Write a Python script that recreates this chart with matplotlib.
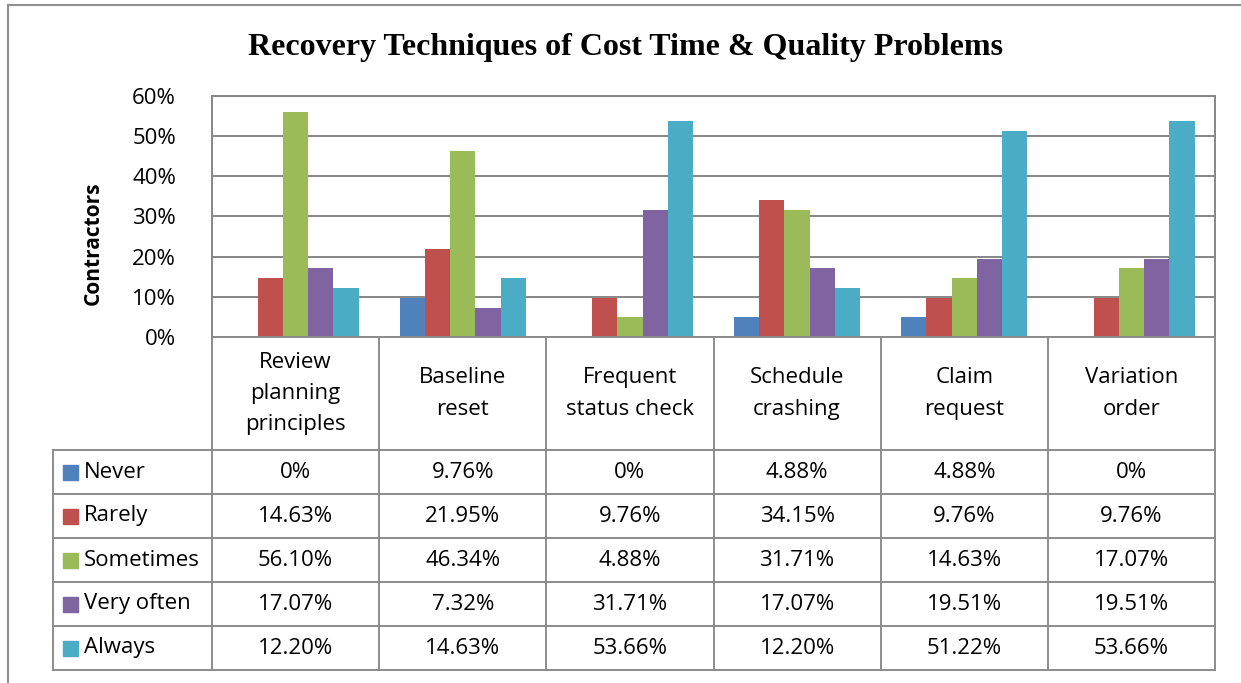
import matplotlib
matplotlib.use('Agg')
import matplotlib.pyplot as plt
from matplotlib.lines import Line2D
from matplotlib.patches import Rectangle

# ---- data ----
categories = ['Review\nplanning\nprinciples', 'Baseline\nreset', 'Frequent\nstatus check',
              'Schedule\ncrashing', 'Claim\nrequest', 'Variation\norder']
series_names = ['Never', 'Rarely', 'Sometimes', 'Very often', 'Always']
never = [0.0, 9.76, 0.0, 4.88, 4.88, 0.0]
rarely = [14.63, 21.95, 9.76, 34.15, 9.76, 9.76]
sometimes = [56.10, 46.34, 4.88, 31.71, 14.63, 17.07]
very_often = [17.07, 7.32, 31.71, 17.07, 19.51, 19.51]
always = [12.20, 14.63, 53.66, 12.20, 51.22, 53.66]
never_lbl = ['0%', '9.76%', '0%', '4.88%', '4.88%', '0%']
rarely_lbl = ['14.63%', '21.95%', '9.76%', '34.15%', '9.76%', '9.76%']
sometimes_lbl = ['56.10%', '46.34%', '4.88%', '31.71%', '14.63%', '17.07%']
very_often_lbl = ['17.07%', '7.32%', '31.71%', '17.07%', '19.51%', '19.51%']
always_lbl = ['12.20%', '14.63%', '53.66%', '12.20%', '51.22%', '53.66%']
y_ticks = [0, 10, 20, 30, 40, 50, 60]

colors = ['#4F81BD', '#C0504D', '#9BBB59', '#8064A2', '#4BACC6']
values = [never, rarely, sometimes, very_often, always]
labels = [never_lbl, rarely_lbl, sometimes_lbl, very_often_lbl, always_lbl]

W, H = 1241, 683
FONT = 'Open Sans'
FS = 16
GRID = '#868686'
TBL = '#8c8c8c'

fig = plt.figure(figsize=(W / 100, H / 100), dpi=100)


def fx(x):
    return x / W


def fy(y):
    return 1 - y / H


def hline(x0, x1, y, color=TBL, lw=1.4):
    fig.add_artist(Line2D([fx(x0), fx(x1)], [fy(y), fy(y)], color=color, lw=lw))


def vline(x, y0, y1, color=TBL, lw=1.4):
    fig.add_artist(Line2D([fx(x), fx(x)], [fy(y0), fy(y1)], color=color, lw=lw))


# outer chart border
hline(8, W, 5, color='#8f8f8f', lw=1.5)
vline(8, 5, H, color='#8f8f8f', lw=1.5)

# plot area
x_left, x_right, y_top, y_bot = 212, 1215, 96, 337
ax = fig.add_axes([fx(x_left), fy(y_bot), fx(x_right - x_left), (y_bot - y_top) / H])
bw = 0.151
for j, (vals, c) in enumerate(zip(values, colors)):
    xs = [i + (j - 2) * bw for i in range(len(categories))]
    ax.bar(xs, [v / 100 for v in vals], width=bw, color=c, zorder=3)

ax.set_xlim(-0.5, len(categories) - 0.5)
ax.set_ylim(0, 0.6)
ax.set_yticks([t / 100 for t in y_ticks])
ax.set_yticklabels([f'{t}%' for t in y_ticks], fontsize=FS, family=FONT)
ax.set_xticks([])
ax.tick_params(axis='y', length=0, pad=26)
ax.yaxis.grid(True, color=GRID, lw=1.4, zorder=0)
for s in ax.spines.values():
    s.set_color(GRID)
    s.set_linewidth(1.4)
ax.spines['bottom'].set_visible(False)

fig.text(fx(93), fy(243), 'Contractors', rotation=90, ha='center', va='center',
         fontsize=15, fontweight='bold', family=FONT)
fig.text(fx(626), fy(47), 'Recovery Techniques of Cost Time & Quality Problems',
         ha='center', va='center', fontsize=23, fontweight='bold', family='Liberation Serif')

# data table
col_w = (x_right - x_left) / len(categories)
col_x = [x_left + i * col_w for i in range(len(categories) + 1)]
lab_left = 53
head_bot = 450
row_h = 44
row_y = [head_bot + r * row_h for r in range(len(series_names) + 1)]

hline(x_left, x_right, y_bot)
for y in row_y:
    hline(lab_left, x_right, y)
for x in col_x:
    vline(x, y_bot, row_y[-1])
vline(lab_left, head_bot, row_y[-1])

for i, cat in enumerate(categories):
    fig.text(fx(col_x[i] + col_w / 2), fy((y_bot + head_bot) / 2), cat, ha='center',
             va='center', fontsize=FS, family=FONT, linespacing=1.65)

for r, (name, lbls, c) in enumerate(zip(series_names, labels, colors)):
    yc = (row_y[r] + row_y[r + 1]) / 2
    fig.add_artist(Rectangle((fx(63), fy(yc + 7.5)), 15 / W, 15 / H, color=c,
                             transform=fig.transFigure))
    fig.text(fx(84), fy(yc), name, ha='left', va='center', fontsize=FS, family=FONT)
    for i, t in enumerate(lbls):
        fig.text(fx(col_x[i] + col_w / 2), fy(yc), t, ha='center', va='center',
                 fontsize=FS, family=FONT)

fig.savefig('out.png', dpi=100)
